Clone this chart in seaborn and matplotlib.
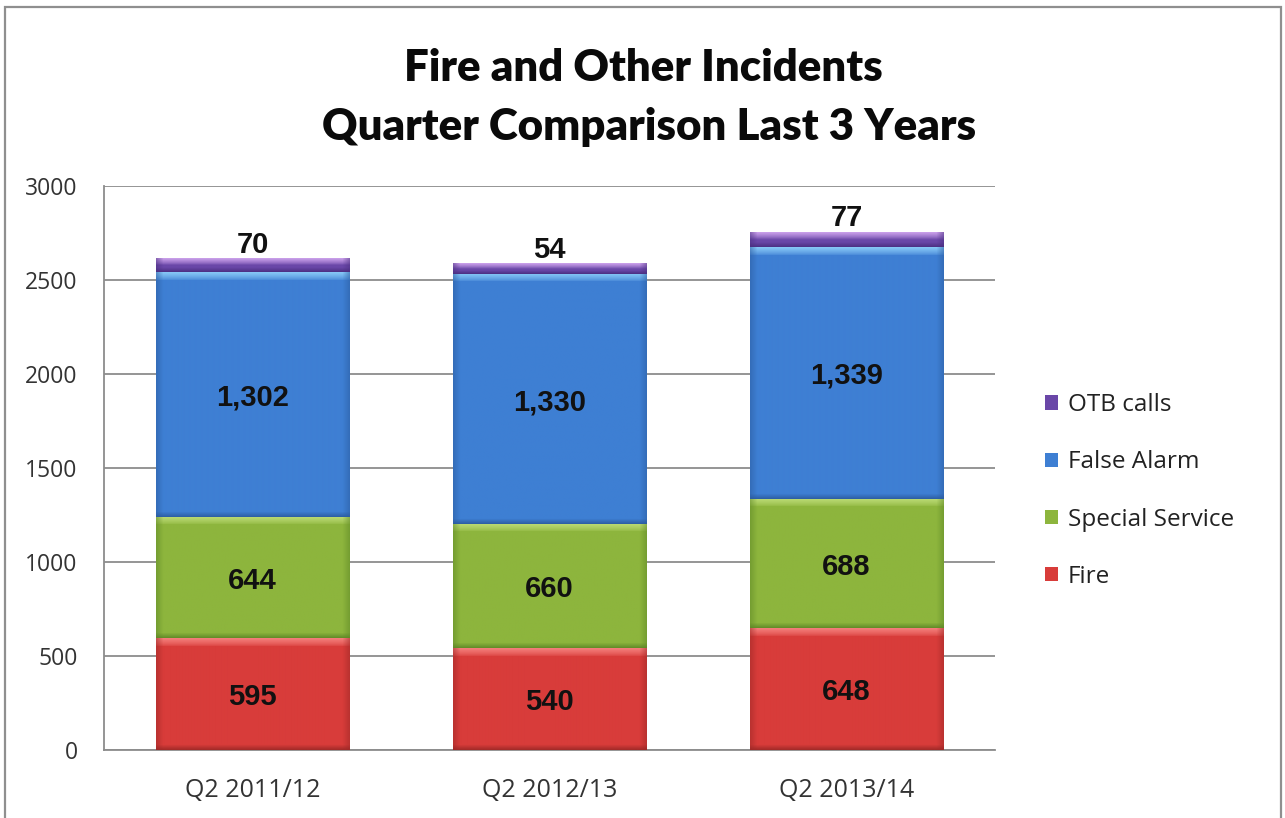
import numpy as np
import pandas as pd
import matplotlib
matplotlib.use("Agg")
import matplotlib.pyplot as plt
from matplotlib.patches import Patch, Rectangle
from matplotlib.colors import to_rgb
import seaborn as sns

# ---- data -------------------------------------------------------------
quarters = ["Q2 2011/12", "Q2 2012/13", "Q2 2013/14"]
fire = [595, 540, 648]
special_service = [644, 660, 688]
false_alarm = [1302, 1330, 1339]
otb_calls = [70, 54, 77]

series_names = ["Fire", "Special Service", "False Alarm", "OTB calls"]
series_values = [fire, special_service, false_alarm, otb_calls]
yticks = [0, 500, 1000, 1500, 2000, 2500, 3000]

# ---- styling ----------------------------------------------------------
body_colors = ["#D83C3A", "#8DB53D", "#3E7FD3", "#6A47A8"]
light_colors = ["#F47E7A", "#BCDB76", "#86C6F6", "#C79DE8"]
dark_colors = ["#9C2826", "#5E8726", "#2B5B9F", "#4A2E80"]

W_PX, H_PX = 1285, 818
sns.set_theme(style="white")
plt.rcParams["font.family"] = ["Open Sans", "DejaVu Sans"]

fig = plt.figure(figsize=(W_PX / 100, H_PX / 100), dpi=100)
fig.patch.set_facecolor("white")
ax = fig.add_axes([104 / W_PX, 1 - 750 / H_PX, 891 / W_PX, 564 / H_PX])

# cumulative stacks
bottoms, tops = [], []
cum = np.zeros(len(quarters))
for vals in series_values:
    bottoms.append(cum.copy())
    cum = cum + np.asarray(vals, dtype=float)
    tops.append(cum.copy())

bar_width = 0.65
# draw tallest stack first so each lower segment is painted over it
for k in reversed(range(len(series_values))):
    sns.barplot(x=quarters, y=tops[k], color=body_colors[k], width=bar_width,
                saturation=1, errorbar=None, ax=ax, linewidth=0, zorder=2)

ax.set_xlim(-0.5, 2.5)
ax.set_ylim(0, 3000)

# bevelled shading for each segment
px_per_y = 564 / 3000
px_per_x = 891 / 3


def bevel_image(base, light, dark, w_px, h_px):
    h = max(int(round(h_px)), 2)
    w = max(int(round(w_px)), 2)
    base, light, dark = (np.array(to_rgb(c)) for c in (base, light, dark))
    r = np.arange(h)[:, None].astype(float)
    c = np.arange(w)[None, :].astype(float)
    band = min(8.0, 0.45 * h)
    sband = min(5.0, 0.3 * h)
    w_top = np.clip(1 - r / band, 0, 1) ** 0.7
    w_bot = np.clip(1 - (h - 1 - r) / sband, 0, 1) * 0.85
    d_side = np.minimum(c, w - 1 - c)
    w_side = np.clip(1 - d_side / 7.0, 0, 1) * 0.5
    img = np.ones((h, w, 3)) * base
    img = img * (1 - w_top[..., None]) + light * w_top[..., None]
    img = img * (1 - w_bot[..., None]) + dark * w_bot[..., None]
    ws = np.broadcast_to(w_side, (h, w))[..., None]
    img = img * (1 - ws) + dark * ws
    return img


for k, vals in enumerate(series_values):
    for i in range(len(quarters)):
        b, t = bottoms[k][i], tops[k][i]
        x0, x1 = i - bar_width / 2, i + bar_width / 2
        img = bevel_image(body_colors[k], light_colors[k], dark_colors[k],
                          (x1 - x0) * px_per_x, (t - b) * px_per_y)
        ax.imshow(img, extent=(x0, x1, b, t), aspect="auto", zorder=3,
                  interpolation="bilinear")

ax.set_xlim(-0.5, 2.5)
ax.set_ylim(0, 3000)

# value labels
label_font = dict(family=["Liberation Sans", "DejaVu Sans"], weight="bold",
                  fontsize=21, color="#111111", zorder=5)
for k, vals in enumerate(series_values):
    for i, v in enumerate(vals):
        if series_names[k] == "OTB calls":
            ax.text(i, tops[k][i] + 2, f"{v:,}", ha="center", va="bottom",
                    **label_font)
        else:
            ax.text(i, (bottoms[k][i] + tops[k][i]) / 2 - 16, f"{v:,}",
                    ha="center", va="center", **label_font)

# axes styling
ax.set_yticks(yticks)
ax.set_yticklabels([str(y) for y in yticks])
ax.yaxis.grid(True, color="#8C8C8C", linewidth=1.3)
ax.xaxis.grid(False)
ax.set_axisbelow(True)
for side in ("top", "right"):
    ax.spines[side].set_visible(False)
for side in ("left", "bottom"):
    ax.spines[side].set_color("#8C8C8C")
    ax.spines[side].set_linewidth(1.3)
ax.tick_params(axis="y", length=0, pad=19, labelsize=16.5, labelcolor="#333333")
ax.tick_params(axis="x", length=0, pad=20, labelsize=18, labelcolor="#333333")
ax.set_xlabel("")
ax.set_ylabel("")

# legend
order = [3, 2, 1, 0]
handles = [Patch(facecolor=body_colors[k], edgecolor="none") for k in order]
labels = [series_names[k] for k in order]
fig.legend(handles, labels, loc="center left",
           bbox_to_anchor=(1023 / W_PX, 1 - 491 / H_PX), frameon=False,
           fontsize=17.5, handlelength=0.55, handleheight=0.55,
           handletextpad=0.4, labelspacing=1.36, labelcolor="#222222")

# title
title_font = dict(family=["Lato", "DejaVu Sans"], weight="heavy", fontsize=31.5,
                  color="#0A0A0A", ha="center", va="center")
fig.text(643 / W_PX, 1 - 68 / H_PX, "Fire and Other Incidents", **title_font)
fig.text(649 / W_PX, 1 - 127 / H_PX, "Quarter Comparison Last 3 Years",
         **title_font)

# outer frame
fig.add_artist(Rectangle((5 / W_PX, -0.02), (1281 - 5) / W_PX,
                         (H_PX - 7) / H_PX + 0.02, transform=fig.transFigure,
                         fill=False, edgecolor="#8F8F8F", linewidth=1.6))

fig.savefig("out.png", dpi=100)
